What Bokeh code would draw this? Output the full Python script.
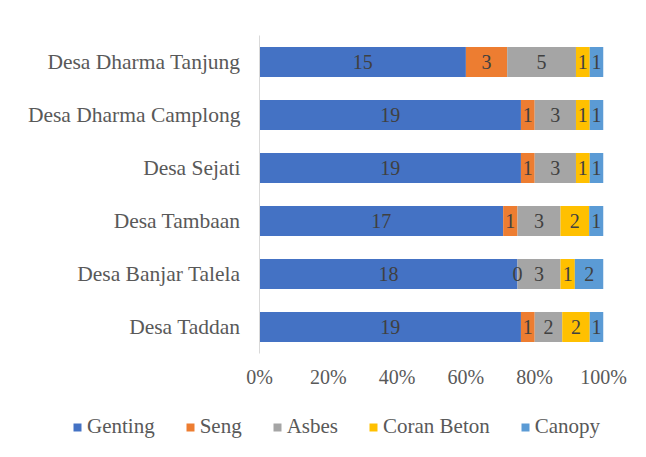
from bokeh.plotting import figure
from bokeh.layouts import column
from bokeh.models import (ColumnDataSource, FactorRange, FixedTicker, NumeralTickFormatter,
                          LabelSet, Legend, LegendItem)
from bokeh.core.properties import value
from bokeh.embed import file_html
from bokeh.resources import INLINE

villages = ["Desa Taddan", "Desa Banjar Talela", "Desa Tambaan", "Desa Sejati",
            "Desa Dharma Camplong", "Desa Dharma Tanjung"]
series = ["Genting", "Seng", "Asbes", "Coran Beton", "Canopy"]
genting = [19, 18, 17, 19, 19, 15]
seng = [1, 0, 1, 1, 1, 3]
asbes = [2, 3, 3, 3, 3, 5]
coran_beton = [2, 1, 2, 1, 1, 1]
canopy = [1, 2, 1, 1, 1, 1]
colors = ["#4472C4", "#ED7D31", "#A5A5A5", "#FFC000", "#5B9BD5"]
ticks = [0, 0.2, 0.4, 0.6, 0.8, 1.0]

FONT = "Liberation Serif"
values = [genting, seng, asbes, coran_beton, canopy]
totals = [sum(v[i] for v in values) for i in range(len(villages))]

p = figure(width=646, height=400, y_range=FactorRange(*villages, range_padding=0),
           x_range=(0, 1), output_backend="svg", toolbar_location=None,
           min_border_left=259, min_border_right=43, min_border_top=35, min_border_bottom=47)
p.outline_line_color = None
p.grid.visible = False

# legend strip below the chart (separate figure so the legend is not clipped)
lg = figure(width=646, height=57, x_range=(0, 1), y_range=FactorRange(*villages),
            output_backend="svg", toolbar_location=None, min_border=0,
            x_axis_location=None, y_axis_location=None)
lg.outline_line_color = None
lg.grid.visible = False

can_unalign = "frame_align" in lg.properties()
if can_unalign:
    lg.frame_align = False
    p.frame_align = False

left_acc = [0.0] * len(villages)
items = []
for name, vals, col in zip(series, values, colors):
    lefts = list(left_acc)
    rights = [l + v / t for l, v, t in zip(lefts, vals, totals)]
    src = ColumnDataSource(dict(y=villages, left=lefts, right=rights,
                                mid=[(l + r) / 2 for l, r in zip(lefts, rights)],
                                lab=[str(v) for v in vals]))
    p.hbar(y="y", left="left", right="right", height=0.57, source=src,
           fill_color=col, line_color=None)
    p.add_layout(LabelSet(x="mid", y="y", text="lab", source=src, text_align="center",
                          text_baseline="middle", text_font=value(FONT),
                          text_font_size="20px", text_color="#404040"))
    r = lg.hbar(y="y", left="left", right="right", height=0.57, source=src,
                fill_color=col, line_color=None, visible=False)
    items.append(LegendItem(label=name, renderers=[r]))
    left_acc = rights

p.xaxis.ticker = FixedTicker(ticks=ticks)
p.xaxis.formatter = NumeralTickFormatter(format="0%")
p.xaxis.axis_line_color = None
p.xaxis.major_tick_line_color = None
p.xaxis.minor_tick_line_color = None
p.xaxis.major_label_standoff = 6
p.xaxis.major_label_text_font = FONT
p.xaxis.major_label_text_font_size = "20px"
p.xaxis.major_label_text_color = "#595959"

p.yaxis.axis_line_color = "#d9d9d9"
p.yaxis.major_tick_line_color = None
p.yaxis.minor_tick_line_color = None
p.yaxis.major_label_standoff = 13
p.yaxis.major_label_text_font = FONT
p.yaxis.major_label_text_font_size = "21.5px"
p.yaxis.major_label_text_color = "#595959"

legend_x = 72 if can_unalign else -187
legend = Legend(items=items, orientation="horizontal", location=(legend_x, 18), spacing=30,
                glyph_width=10, glyph_height=10, label_standoff=5, padding=0, margin=0,
                border_line_color=None, background_fill_alpha=0,
                inactive_fill_alpha=0, click_policy="none",
                label_text_font="'Liberation Serif'", label_text_font_size="21px",
                label_text_color="#595959")
lg.add_layout(legend, "center")

open("out.html", "w").write(file_html(column(p, lg, spacing=0), INLINE))
